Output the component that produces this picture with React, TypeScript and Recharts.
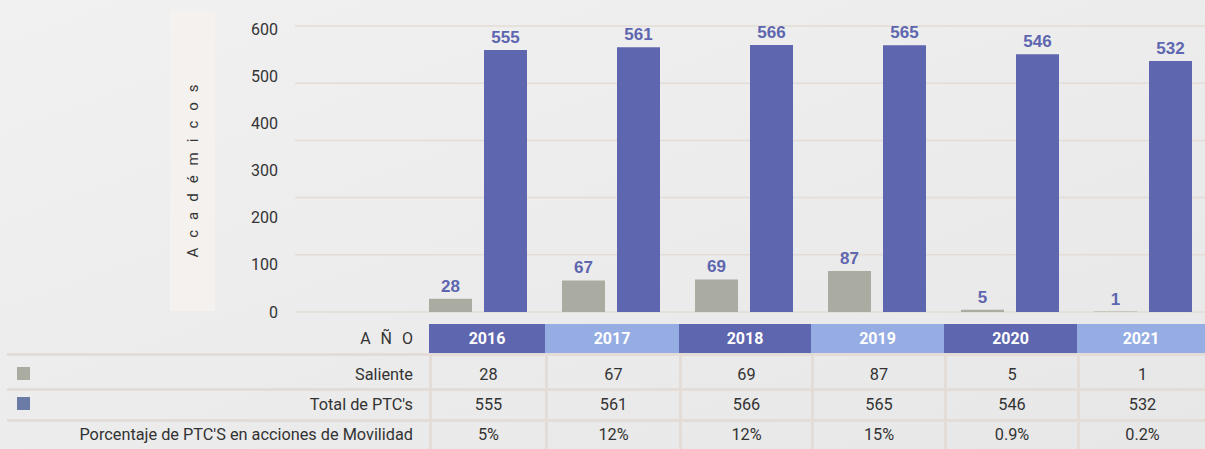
import React from 'react';
import { BarChart, Bar, XAxis, YAxis, CartesianGrid, LabelList } from 'recharts';

const years = ['2016', '2017', '2018', '2019', '2020', '2021'];
const saliente = [28, 67, 69, 87, 5, 1];
const totalPTC = [555, 561, 566, 565, 546, 532];
const porcentaje = ['5%', '12%', '12%', '15%', '0.9%', '0.2%'];
const yTicks = [0, 100, 200, 300, 400, 500, 600];
const seriesNames = ['Saliente', "Total de PTC's"];
const pctLabel = "Porcentaje de PTC'S en acciones de Movilidad";
const yLabel = 'Académicos';
const headLabel = 'AÑO';

const data = years.map((y, i) => ({ year: y, saliente: saliente[i], total: totalPTC[i] }));

const PURPLE = '#5e66af';
const GRAY = '#aaaba1';
const LIGHT = '#95ade3';
const LINE = '#e4dcd6';
const TEXT = '#333333';
const FONT = 'Roboto, "Liberation Sans", Arial, sans-serif';

const colEdges = [429, 545, 679, 811, 944, 1077, 1205];

export default function App() {
  const gridGen = (props: any) => {
    const off = props.offset;
    const pts: number[] = [];
    for (let i = 0; i <= 5; i++) pts.push(off.top + (off.height * i) / 5);
    return pts;
  };

  const rowText = (center: number) => ({
    position: 'absolute' as const,
    top: center - 12,
    height: 24,
    lineHeight: '24px',
    fontSize: 16.3,
    color: TEXT,
    fontFamily: FONT,
  });

  const rows = [
    { center: 375, label: seriesNames[0], values: saliente.map(String), swatch: GRAY, swatchTop: 367 },
    { center: 405, label: seriesNames[1], values: totalPTC.map(String), swatch: '#6a7ba5', swatchTop: 397 },
    { center: 435, label: pctLabel, values: porcentaje, swatch: null, swatchTop: 0 },
  ];

  return (
    <div
      style={{
        position: 'absolute',
        left: 0,
        top: 0,
        width: 1205,
        height: 449,
        overflow: 'hidden',
        background: 'linear-gradient(160deg, #f1f1f1 0%, #ececec 50%, #e7e7e7 100%)',
        fontFamily: FONT,
      }}
    >
      {/* y-axis label panel */}
      <div
        style={{
          position: 'absolute',
          left: 170,
          top: 10,
          width: 45,
          height: 301,
          background: '#f5f1ee',
        }}
      />
      <div
        style={{
          position: 'absolute',
          left: 193 - 110,
          top: 171 - 12,
          width: 220,
          height: 24,
          lineHeight: '24px',
          textAlign: 'center',
          transform: 'rotate(-90deg)',
          fontSize: 15,
          letterSpacing: 10,
          paddingLeft: 10,
          boxSizing: 'border-box',
          color: TEXT,
          fontFamily: FONT,
          whiteSpace: 'nowrap',
        }}
      >
        {yLabel}
      </div>

      <div style={{ position: 'absolute', left: 0, top: 0 }}>
        <BarChart
          width={1209}
          height={330}
          data={data}
          margin={{ top: 26, right: 0, bottom: 18, left: 235 }}
          barSize={43}
          barGap={12}
        >
          <CartesianGrid
            vertical={false}
            stroke={LINE}
            strokeWidth={1.5}
            horizontalCoordinatesGenerator={gridGen}
          />
          <XAxis dataKey="year" hide padding={{ left: 116, right: 0 }} />
          <YAxis
            domain={[0, 606]}
            ticks={yTicks}
            width={60}
            axisLine={false}
            tickLine={false}
            tickSize={0}
            tickMargin={17}
            tick={{ fill: TEXT, fontSize: 16, fontFamily: FONT }}
            interval={0}
          />
          <Bar dataKey="saliente" fill={GRAY} isAnimationActive={false}>
            <LabelList
              dataKey="saliente"
              position="top"
              offset={7}
              fill={PURPLE}
              fontSize={17}
              fontWeight="bold"
              fontFamily='"Liberation Sans", Arial, sans-serif'
            />
          </Bar>
          <Bar dataKey="total" fill={PURPLE} isAnimationActive={false}>
            <LabelList
              dataKey="total"
              position="top"
              offset={7}
              fill={PURPLE}
              fontSize={17}
              fontWeight="bold"
              fontFamily='"Liberation Sans", Arial, sans-serif'
            />
          </Bar>
        </BarChart>
      </div>

      {/* table header */}
      <div
        style={{
          position: 'absolute',
          left: 0,
          width: 413,
          top: 324,
          height: 30,
          lineHeight: '30px',
          textAlign: 'right',
          fontSize: 16,
          letterSpacing: 10,
          color: TEXT,
        }}
      >
        <span style={{ marginRight: -10 }}>{headLabel}</span>
      </div>
      {years.map((y, i) => (
        <div
          key={'h' + y}
          style={{
            position: 'absolute',
            left: colEdges[i],
            top: 324,
            width: colEdges[i + 1] - colEdges[i],
            height: 30,
            lineHeight: '30px',
            background: i % 2 === 0 ? PURPLE : LIGHT,
            color: '#ffffff',
            fontWeight: 'bold',
            fontSize: 16,
            textAlign: 'center',
          }}
        >
          {y}
        </div>
      ))}

      {/* horizontal rules */}
      {[353, 388, 419].map((t) => (
        <div
          key={'hl' + t}
          style={{ position: 'absolute', left: 7, top: t, width: 1198, height: 3, background: LINE }}
        />
      ))}
      {/* vertical rules */}
      {colEdges.slice(0, 6).map((x) => (
        <div
          key={'vl' + x}
          style={{ position: 'absolute', left: x, top: 354, width: 3, height: 95, background: LINE }}
        />
      ))}

      {rows.map((r, ri) => (
        <React.Fragment key={'r' + ri}>
          {r.swatch && (
            <div
              style={{
                position: 'absolute',
                left: 17,
                top: r.swatchTop,
                width: 13,
                height: 13,
                background: r.swatch,
              }}
            />
          )}
          <div style={{ ...rowText(r.center), left: 0, width: 413, textAlign: 'right' }}>{r.label}</div>
          {r.values.map((v, i) => (
            <div
              key={'v' + ri + i}
              style={{
                ...rowText(r.center),
                left: colEdges[i] + 3,
                width: colEdges[i + 1] - colEdges[i] - 3,
                textAlign: 'center',
              }}
            >
              {v}
            </div>
          ))}
        </React.Fragment>
      ))}
    </div>
  );
}
